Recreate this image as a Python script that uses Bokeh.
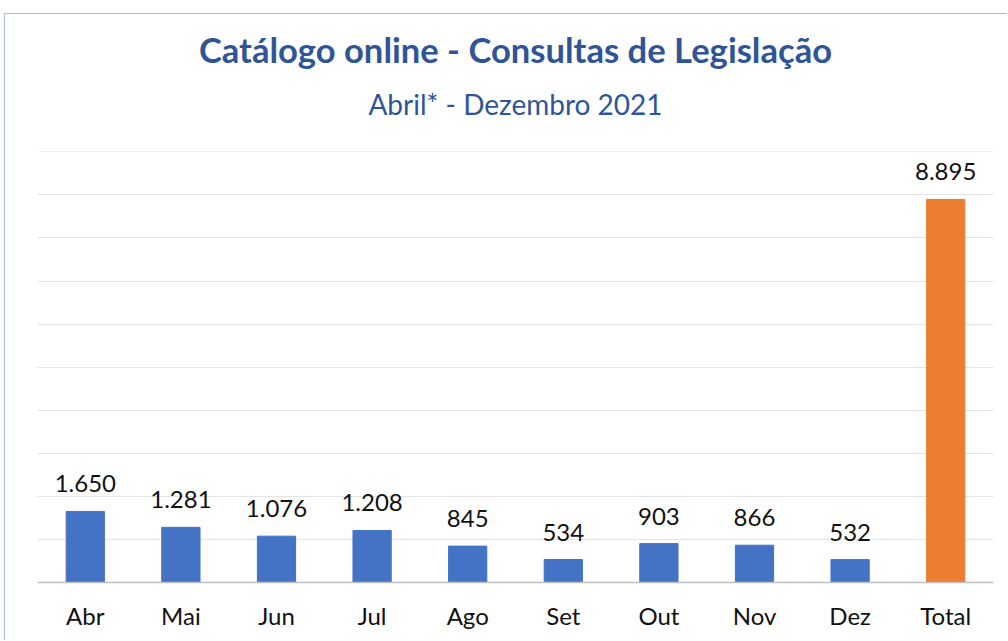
from bokeh.plotting import figure
from bokeh.models import ColumnDataSource, Title, SingleIntervalTicker, Range1d
from bokeh.core.properties import value
from bokeh.embed import file_html
from bokeh.resources import INLINE

categories = ["Abr", "Mai", "Jun", "Jul", "Ago", "Set", "Out", "Nov", "Dez", "Total"]
consultas = [1650, 1281, 1076, 1208, 845, 534, 903, 866, 532, 8895]
bar_colors = ["#4472C4"] * 9 + ["#ED7D31"]
title_text = "Catálogo online - Consultas de Legislação"
subtitle_text = "Abril* - Dezembro 2021"

labels = [f"{v:,}".replace(",", ".") for v in consultas]
src = ColumnDataSource(dict(cat=categories, val=consultas, color=bar_colors, lab=labels))

FONT = "Lato"
p = figure(x_range=categories, y_range=Range1d(0, 10008), width=1003, height=627,
           output_backend="svg", toolbar_location=None, title=None,
           min_border_left=32, min_border_right=15, min_border_bottom=59, min_border_top=137,
           styles={"border-left": "1px solid #A9BDE3", "border-top": "1px solid #A9BDE3",
                   "margin-left": "4px", "margin-top": "13px"})

p.add_layout(Title(text=subtitle_text, align="center", text_font=FONT, text_font_size="28px",
                   text_font_style="normal", text_color="#2F5597", standoff=62), "above")
p.add_layout(Title(text=title_text, align="center", text_font=FONT, text_font_size="34.6px",
                   text_font_style="bold", text_color="#2F5597", standoff=-33), "above")

p.vbar(x="cat", top="val", width=0.4, color="color", source=src)
p.text(x="cat", y="val", text="lab", source=src, text_align="center", text_baseline="bottom",
       y_offset=-19, text_font=value(FONT), text_font_size="24px", text_color="#111111")

p.yaxis.visible = False
p.ygrid.ticker = SingleIntervalTicker(interval=1000)
p.ygrid.grid_line_color = "#E4E4E4"
p.xgrid.grid_line_color = None
p.outline_line_color = None

ax = p.xaxis[0]
ax.axis_line_color = "#BFBFBF"
ax.axis_line_width = 1.5
ax.major_tick_line_color = None
ax.minor_tick_line_color = None
ax.major_label_text_font = FONT
ax.major_label_text_font_size = "24px"
ax.major_label_text_color = "#111111"
ax.major_label_standoff = 12
p.x_range.range_padding = 0.0

open("out.html", "w").write(file_html(p, INLINE))
